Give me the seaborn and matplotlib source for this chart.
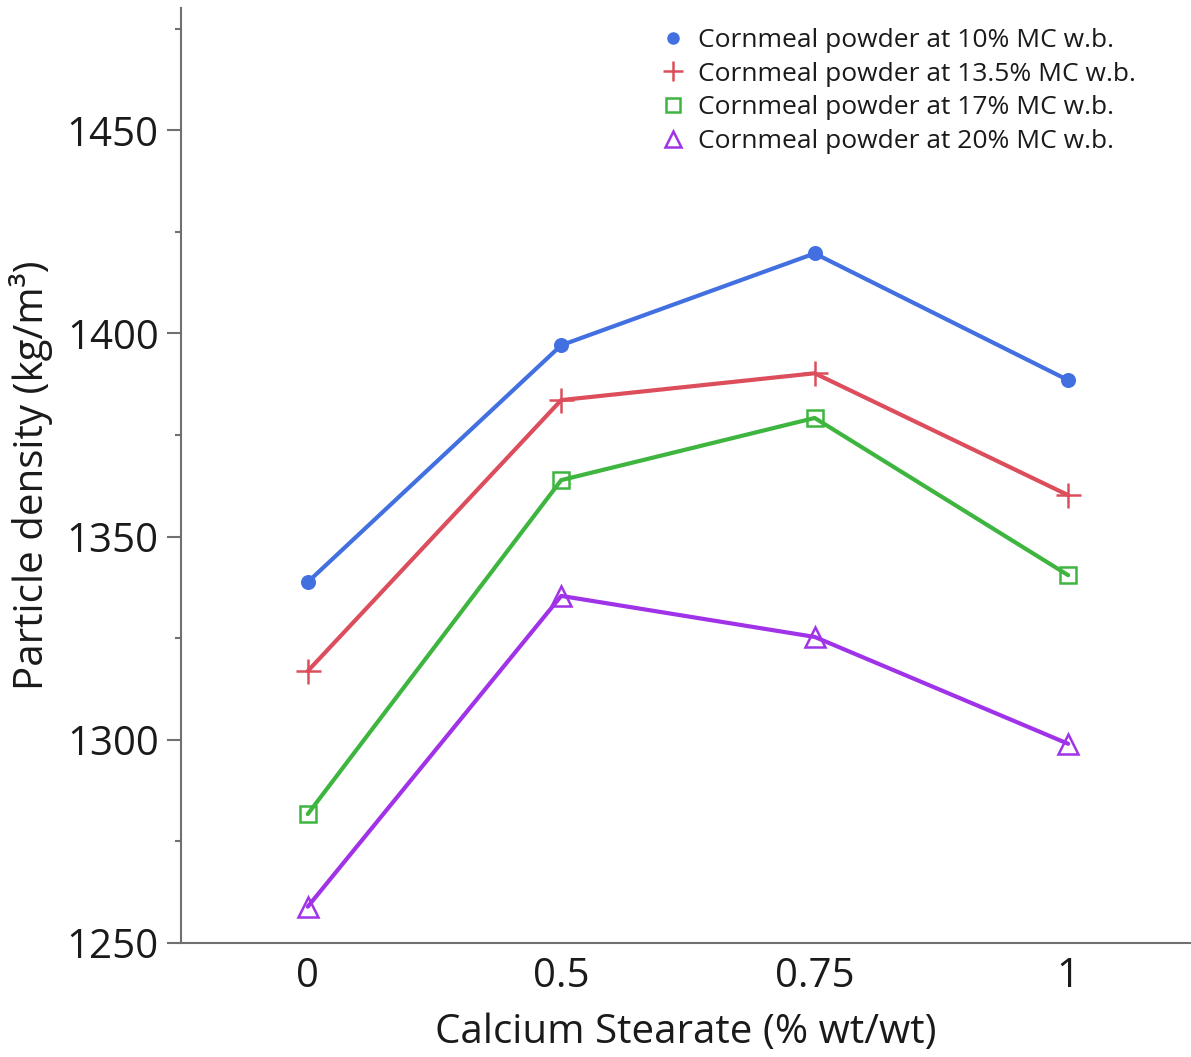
import matplotlib
matplotlib.use("Agg")
import matplotlib.pyplot as plt
from matplotlib.lines import Line2D
from matplotlib.ticker import MultipleLocator
import seaborn as sns
import pandas as pd

# ---- data ----
x_labels = ["0", "0.5", "0.75", "1"]
mc10 = [1338.8, 1397.1, 1419.7, 1388.5]
mc135 = [1316.9, 1383.6, 1390.2, 1360.2]
mc17 = [1281.7, 1363.9, 1379.2, 1340.5]
mc20 = [1258.9, 1335.4, 1325.3, 1299.0]
series_names = [
    "Cornmeal powder at 10% MC w.b.",
    "Cornmeal powder at 13.5% MC w.b.",
    "Cornmeal powder at 17% MC w.b.",
    "Cornmeal powder at 20% MC w.b.",
]
series_values = [mc10, mc135, mc17, mc20]

# ---- styles ----
colors = ["#4270E0", "#DC4E5C", "#3DB53F", "#A033E8"]
markers = ["o", "+", "s", "^"]
msizes = [9, 18, 12, 15]
mfcs = [None, None, "none", "none"]

sns.set_theme(style="white")
plt.rcParams["font.family"] = ["Open Sans", "DejaVu Sans"]
plt.rcParams["text.color"] = "#1a1a1a"
plt.rcParams["axes.labelcolor"] = "#1a1a1a"
plt.rcParams["xtick.color"] = "#1a1a1a"
plt.rcParams["ytick.color"] = "#1a1a1a"

fig = plt.figure(figsize=(11.91, 10.57), dpi=100)
ax = fig.add_axes([0.152, 0.108, 0.847, 0.884])

pos = list(range(len(x_labels)))
handles = []
for name, vals, c, m, ms, mfc in zip(series_names, series_values, colors, markers, msizes, mfcs):
    df = pd.DataFrame({"x": pos, "y": vals})
    kw = dict(markerfacecolor=mfc if mfc else c)
    sns.lineplot(data=df, x="x", y="y", ax=ax, color=c, linewidth=3.0,
                 marker=m, markersize=ms, markeredgecolor=c, markeredgewidth=1.8,
                 **kw)
    handles.append(Line2D([], [], linestyle="none", marker=m, color=c,
                          markersize=ms * 0.8, markerfacecolor=kw["markerfacecolor"],
                          markeredgecolor=c, markeredgewidth=1.8, label=name))

ax.set_xlim(-0.5, 3.48)
ax.set_ylim(1250, 1480)
ax.set_xticks(pos)
ax.set_xticklabels(x_labels)
ax.yaxis.set_major_locator(MultipleLocator(50))
ax.yaxis.set_minor_locator(MultipleLocator(25))

for s in ["top", "right"]:
    ax.spines[s].set_visible(False)
for s in ["left", "bottom"]:
    ax.spines[s].set_color("#707070")
    ax.spines[s].set_linewidth(1.5)

ax.tick_params(axis="y", which="major", length=10, width=1.5, color="#707070",
               labelsize=29, left=True, pad=6)
ax.tick_params(axis="y", which="minor", length=4.5, width=1.5, color="#707070", left=True)
ax.tick_params(axis="x", which="both", length=0, labelsize=29, pad=10)

ax.set_xlabel("Calcium Stearate (% wt/wt)", fontsize=29, labelpad=11)
ax.set_ylabel("Particle density (kg/m³)", fontsize=29, labelpad=10)

ax.legend(handles=handles, loc="upper right", frameon=False, fontsize=19,
          handlelength=1.0, handletextpad=0.45, labelspacing=0.33,
          bbox_to_anchor=(0.962, 0.996), borderaxespad=0.2)

fig.savefig("out.png", dpi=100)
